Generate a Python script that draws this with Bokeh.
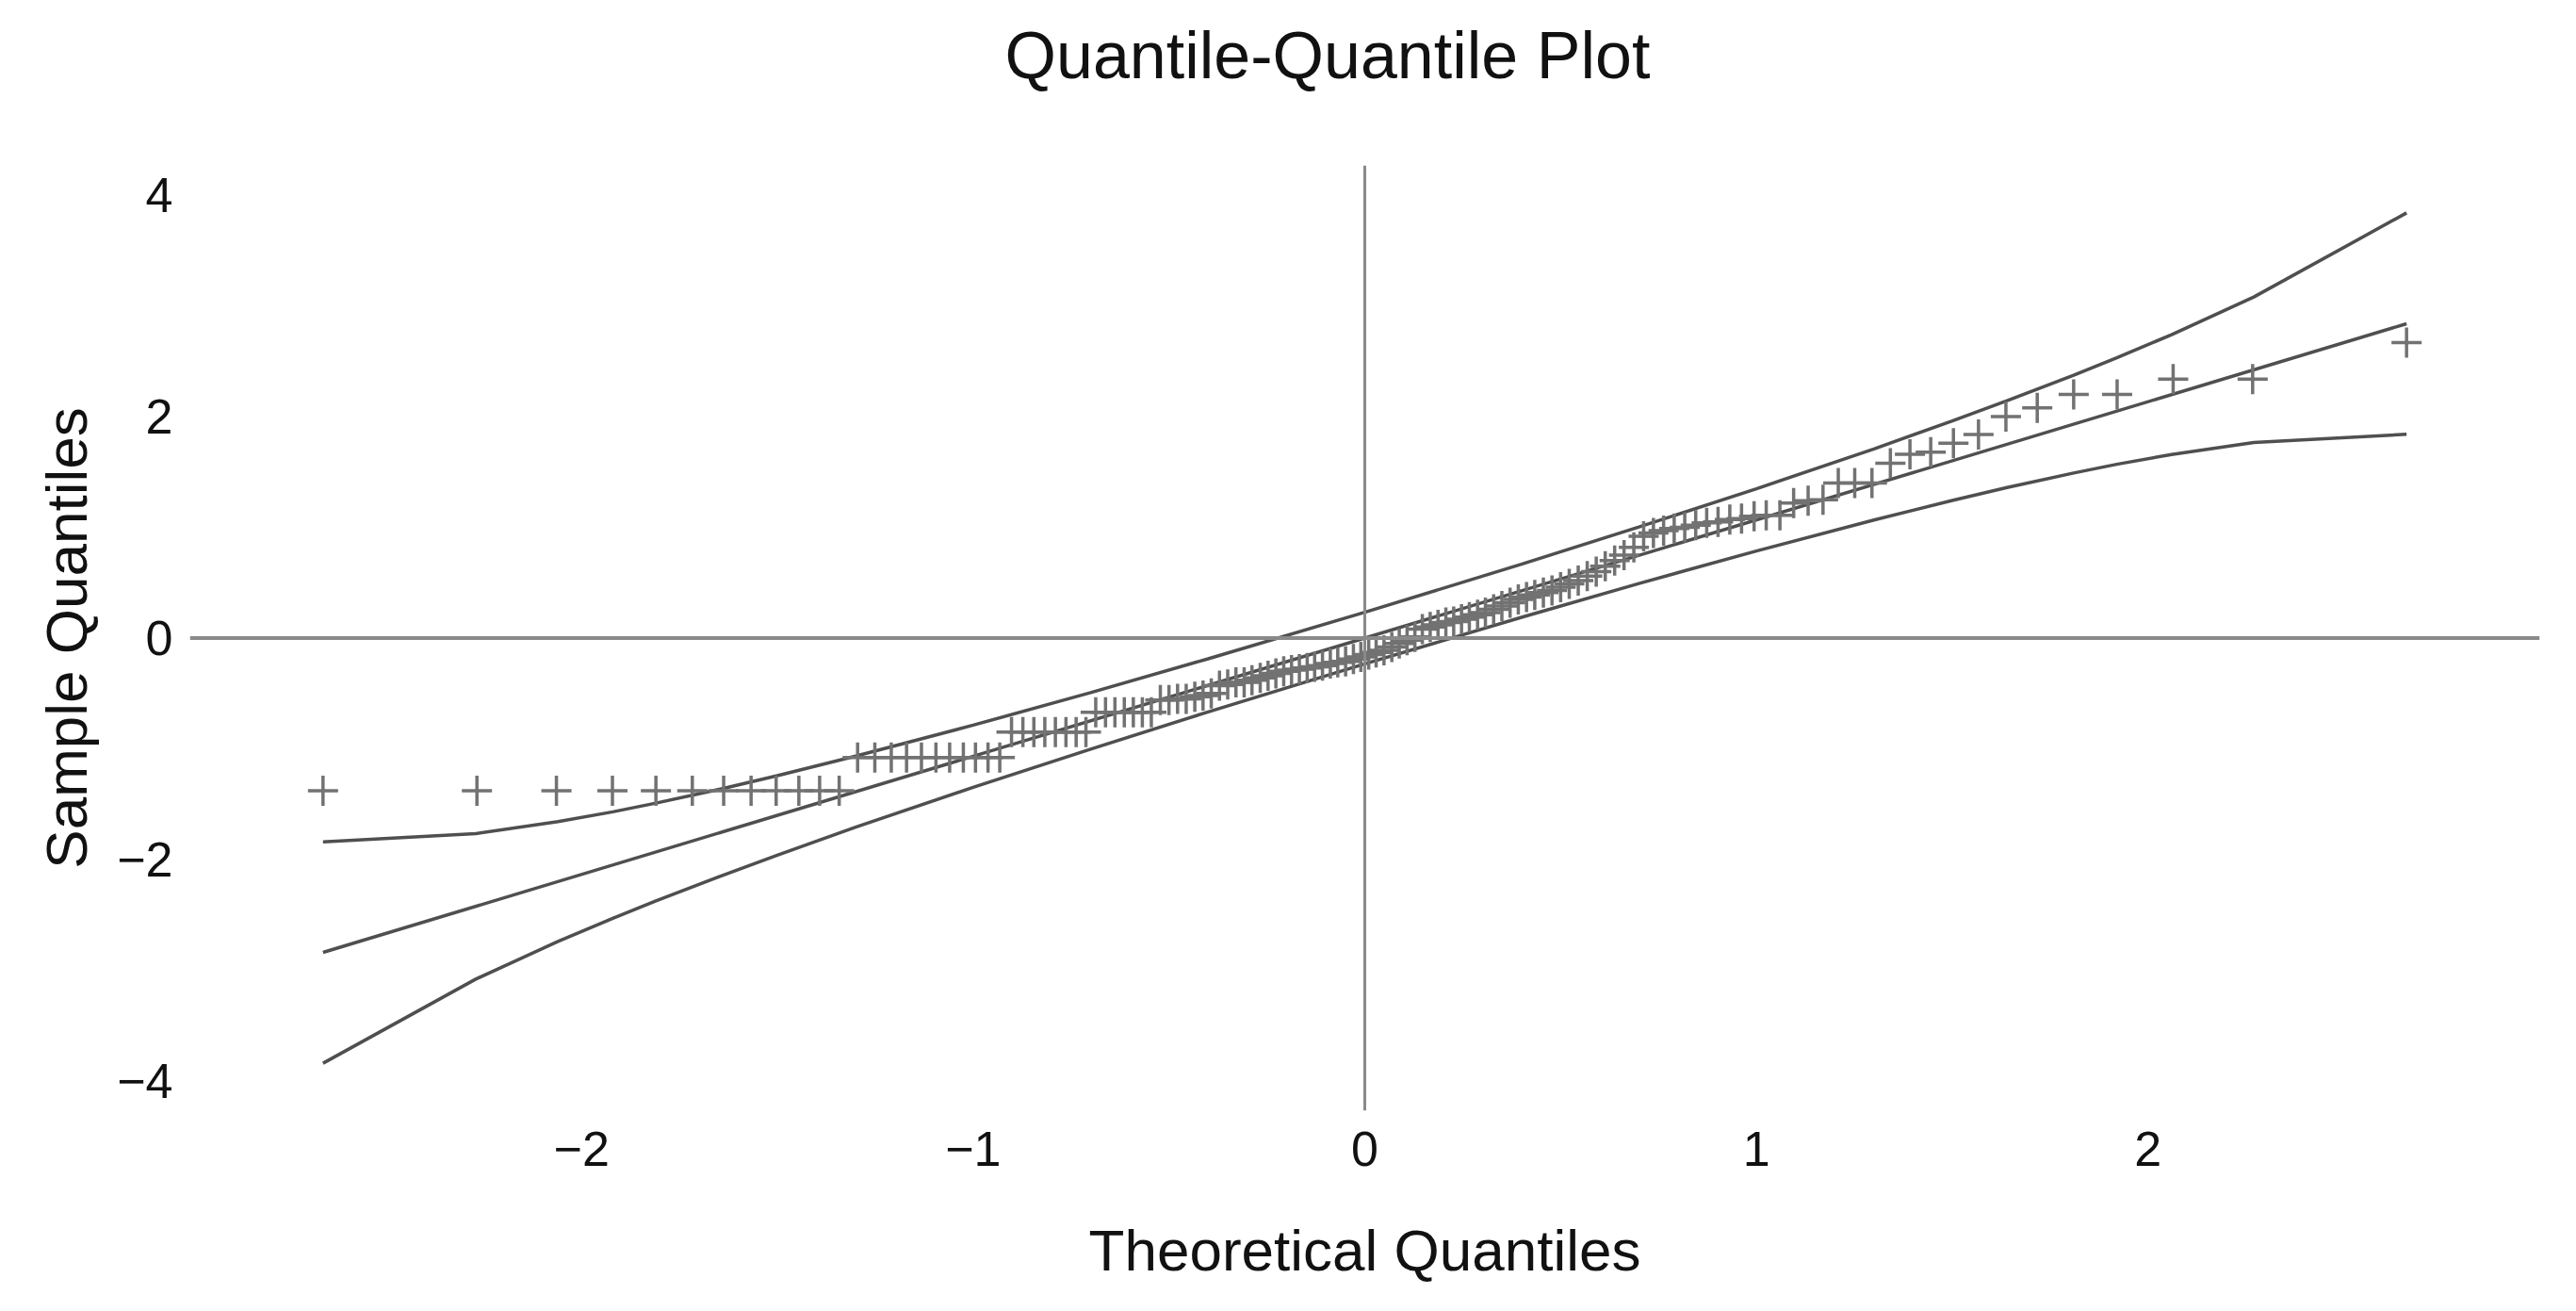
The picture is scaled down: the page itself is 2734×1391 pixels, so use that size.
from bokeh.plotting import figure
from bokeh.models import FixedTicker, Span, Title
from bokeh.embed import file_html
from bokeh.resources import INLINE

# theoretical normal quantiles of the 128 sample points
theoretical = [
    -2.660, -2.267, -2.064, -1.921, -1.810, -1.717, -1.637, -1.567, -1.503, -1.445,
    -1.392, -1.342, -1.295, -1.251, -1.209, -1.170, -1.132, -1.095, -1.060, -1.025,
    -0.994, -0.962, -0.932, -0.902, -0.873, -0.845, -0.817, -0.790, -0.763, -0.737,
    -0.712, -0.687, -0.662, -0.638, -0.614, -0.591, -0.568, -0.545, -0.522, -0.500,
    -0.478, -0.456, -0.434, -0.413, -0.392, -0.371, -0.350, -0.329, -0.308, -0.288,
    -0.267, -0.247, -0.227, -0.207, -0.187, -0.167, -0.147, -0.128, -0.108, -0.088,
    -0.069, -0.049, -0.029, -0.010,
    0.010, 0.029, 0.049, 0.069, 0.088, 0.108, 0.128, 0.147, 0.167, 0.187,
    0.207, 0.227, 0.247, 0.267, 0.288, 0.308, 0.329, 0.350, 0.371, 0.392,
    0.413, 0.434, 0.456, 0.478, 0.500, 0.522, 0.545, 0.568, 0.591, 0.614,
    0.638, 0.662, 0.687, 0.712, 0.737, 0.763, 0.790, 0.817, 0.845, 0.873,
    0.902, 0.932, 0.962, 0.994, 1.025, 1.060, 1.095, 1.132, 1.170, 1.209,
    1.251, 1.295, 1.342, 1.392, 1.445, 1.503, 1.567, 1.637, 1.717, 1.810,
    1.921, 2.064, 2.267, 2.660,
]

# sorted sample values
sample = [
    -1.38, -1.38, -1.38, -1.38, -1.38, -1.38, -1.38, -1.38, -1.38, -1.38, -1.38, -1.38,
    -1.08, -1.08, -1.08, -1.08, -1.08, -1.08, -1.08, -1.08, -1.08, -1.08, -1.08,
    -0.85, -0.85, -0.85, -0.85, -0.85, -0.85, -0.85, -0.85,
    -0.67, -0.67, -0.67, -0.67, -0.67, -0.67, -0.67,
    -0.56, -0.56, -0.55, -0.55, -0.53, -0.52, -0.50,
    -0.43, -0.42, -0.40, -0.40, -0.38, -0.36, -0.34, -0.32,
    -0.30, -0.29, -0.28, -0.27, -0.26, -0.25, -0.23, -0.22,
    -0.21, -0.19, -0.17, -0.15, -0.13, -0.11, -0.08, -0.05, -0.02, 0.01,
    0.08, 0.10, 0.12, 0.14, 0.15, 0.17, 0.19, 0.21, 0.23, 0.26, 0.29,
    0.32, 0.35, 0.37, 0.39, 0.41, 0.43, 0.46, 0.49, 0.52,
    0.56, 0.60, 0.65, 0.70, 0.75, 0.82,
    0.92, 0.95, 0.97, 0.99, 1.00, 1.02, 1.04, 1.05, 1.07, 1.08, 1.10, 1.11,
    1.11, 1.22, 1.24, 1.25, 1.40, 1.40, 1.40, 1.58, 1.66, 1.68, 1.76, 1.84,
    2.00, 2.08, 2.20, 2.20, 2.34, 2.34, 2.67,
]

# reference line and confidence envelope
ref_x = [-2.66, 2.66]
ref_y = [-2.84, 2.84]
band_x = [-2.66, -2.27, -2.06, -1.92, -1.81, -1.64, -1.5, -1.3, -1.0, -0.7, -0.4, 0.0,
          0.4, 0.7, 1.0, 1.3, 1.5, 1.64, 1.81, 1.92, 2.06, 2.27, 2.66]
band_upper = [-1.841, -1.767, -1.659, -1.570, -1.491, -1.360, -1.243, -1.067, -0.787, -0.493, -0.187, 0.233,
              0.667, 1.003, 1.349, 1.709, 1.961, 2.144, 2.375, 2.532, 2.741, 3.081, 3.841]
band_lower = [-3.841, -3.081, -2.741, -2.532, -2.375, -2.144, -1.961, -1.709, -1.349, -1.003, -0.667, -0.233,
              0.187, 0.493, 0.787, 1.067, 1.243, 1.360, 1.491, 1.570, 1.659, 1.767, 1.841]

x_ticks = [-2, -1, 0, 1, 2]
y_ticks = [-4, -2, 0, 2, 4]

FONT = "Liberation Sans"


def qq_plot():
    p = figure(width=2718, height=1375, x_range=(-3, 3), y_range=(-4.27, 4.27),
               output_backend="svg", toolbar_location=None, title="Quantile-Quantile Plot",
               x_axis_label="Theoretical Quantiles", y_axis_label="Sample Quantiles")
    p.min_border_left = 201
    p.min_border_right = 23
    p.min_border_top = 175
    p.min_border_bottom = 197
    p.outline_line_color = None
    p.xgrid.grid_line_color = None
    p.ygrid.grid_line_color = None

    # blank spacer between frame and title, pushes the title up
    p.add_layout(Title(text=" ", text_font_size="10px", standoff=60), "above")

    # title sits a bit left of the frame centre
    p.title.align = "left"
    p.title.offset = 865
    p.title.standoff = 10
    p.title.text_font = FONT
    p.title.text_font_size = "70px"
    p.title.text_font_style = "normal"
    p.title.text_color = "#111111"

    for ax in (p.xaxis, p.yaxis):
        ax.axis_line_color = None
        ax.major_tick_line_color = None
        ax.minor_tick_line_color = None
        ax.major_label_text_font = FONT
        ax.major_label_text_font_size = "52px"
        ax.major_label_text_color = "#111111"
        ax.axis_label_text_font = FONT
        ax.axis_label_text_font_size = "62px"
        ax.axis_label_text_font_style = "normal"
        ax.axis_label_text_color = "#111111"

    p.xaxis.ticker = FixedTicker(ticks=x_ticks)
    p.yaxis.ticker = FixedTicker(ticks=y_ticks)
    p.xaxis.major_label_overrides = {t: str(t).replace("-", "\u2212") for t in x_ticks}
    p.yaxis.major_label_overrides = {t: str(t).replace("-", "\u2212") for t in y_ticks}
    p.xaxis.major_label_standoff = 16
    p.yaxis.major_label_standoff = 12
    p.xaxis.axis_label_standoff = 52
    p.yaxis.axis_label_standoff = 16

    # zero lines
    p.add_layout(Span(location=0, dimension="width", line_color="#8a8a8a", line_width=4))
    p.add_layout(Span(location=0, dimension="height", line_color="#8a8a8a", line_width=3))

    p.line(band_x, band_upper, line_color="#4f4f4f", line_width=3.5)
    p.line(band_x, band_lower, line_color="#4f4f4f", line_width=3.5)
    p.line(ref_x, ref_y, line_color="#4f4f4f", line_width=3.5)

    p.scatter(theoretical, sample, marker="cross", size=32, line_color="#727272", line_width=3.5)
    return p


if __name__ == '__main__':
    p = qq_plot()
    open("out.html", "w").write(file_html(p, INLINE))
